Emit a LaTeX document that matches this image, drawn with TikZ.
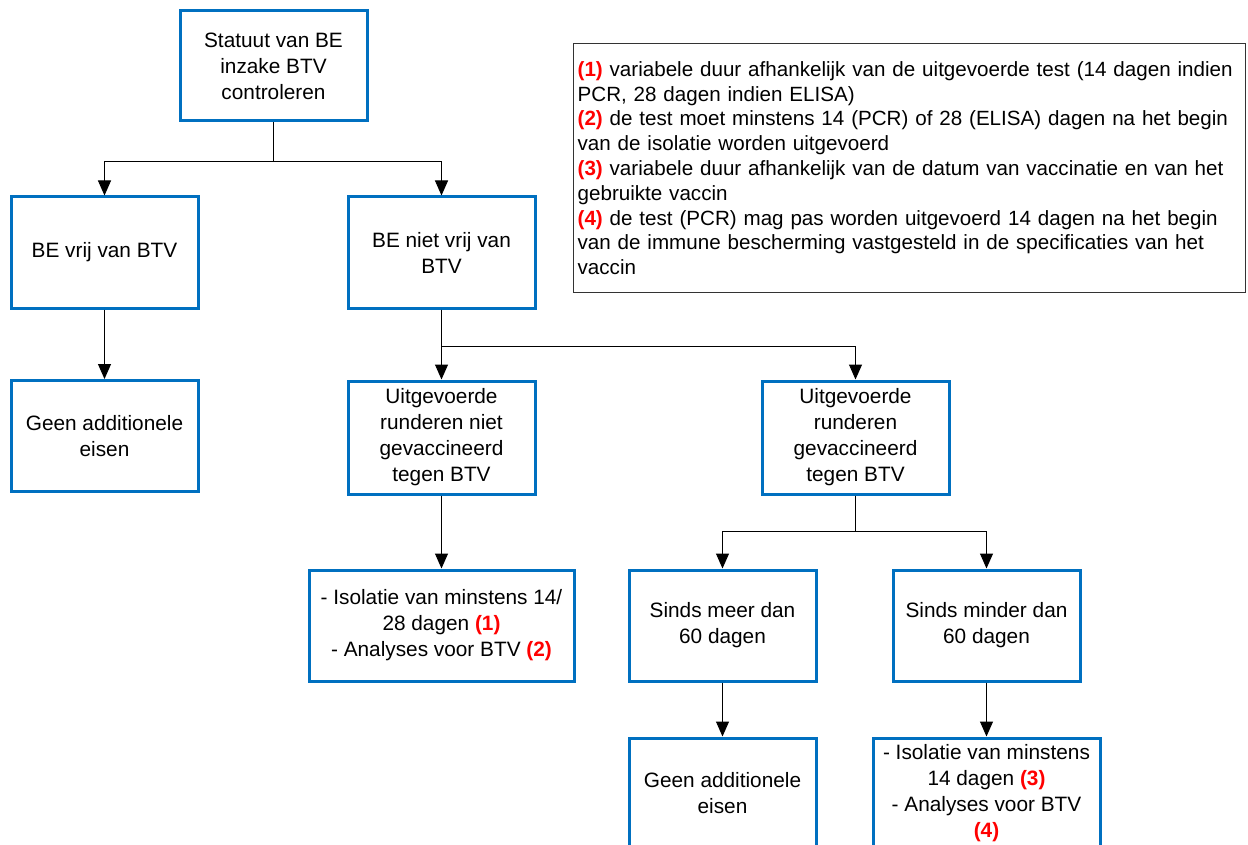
\documentclass[tikz,border=0pt]{standalone}
\usepackage{fontspec}
\setmainfont{Liberation Sans}
\usetikzlibrary{arrows.meta}
\definecolor{boxblue}{RGB}{0,112,192}
\newcommand{\nr}[1]{\textcolor{red}{\textbf{#1}}}

\begin{document}
\begin{tikzpicture}[x=1pt, y=-1pt,
    box/.style={draw=boxblue, line width=3pt, minimum width=187pt, minimum height=111pt,
      align=center, inner sep=2pt, font=\fontsize{20.8}{26}\selectfont},
    arr/.style={-{Triangle[width=13pt,length=15pt]}, line width=1pt}]
  \clip (0,0) rectangle (1248,845);
  % tree
  \node[box, minimum height=110pt] at (273.5,66) (status) {Statuut van BE\\inzake BTV\\controleren};
  \node[box] at (104.5,252.5) (free) {BE vrij van BTV};
  \node[box] at (441.5,252.5) (notfree) {BE niet vrij van\\BTV};
  \node[box] at (104.5,436) (none1) {Geen additionele\\eisen};
  \node[box, minimum height=113pt] at (441.5,437.5) (unvacc) {Uitgevoerde\\runderen niet\\gevaccineerd\\tegen BTV};
  \node[box, minimum height=113pt] at (855.5,437.5) (vacc) {Uitgevoerde\\runderen\\gevaccineerd\\tegen BTV};
  \node[box, minimum width=265pt] at (441.5,625.5) (iso1) {- Isolatie van minstens 14/\\28 dagen \nr{(1)}\\- Analyses voor BTV \nr{(2)}};
  \node[box] at (722.5,625.5) (more60) {Sinds meer dan\\60 dagen};
  \node[box] at (986.5,625.5) (less60) {Sinds minder dan\\60 dagen};
  \node[box] at (722.5,793.5) (none2) {Geen additionele\\eisen};
  \node[box, minimum width=227pt] at (986.5,793.5) (iso2) {- Isolatie van minstens\\14 dagen \nr{(3)}\\- Analyses voor BTV\\\nr{(4)}};
  % connectors
  \draw[arr] (status.south) -- ++(0,39) -| (free.north);
  \draw[arr] (status.south) -- ++(0,39) -| (notfree.north);
  \draw[arr] (free) -- (none1);
  \draw[arr] (notfree.south) -- ++(0,37) -| (unvacc.north);
  \draw[arr] (notfree.south) -- ++(0,37) -| (vacc.north);
  \draw[arr] (unvacc) -- (iso1);
  \draw[arr] (vacc.south) -- ++(0,36) -| (more60.north);
  \draw[arr] (vacc.south) -- ++(0,36) -| (less60.north);
  \draw[arr] (more60) -- (none2);
  \draw[arr] (less60) -- (iso2);
  % legend
  \node[draw=black!80, line width=1.3pt, anchor=north west, minimum height=249pt,
    text width=664pt, inner xsep=4pt, align=left, font=\fontsize{20.6}{24.8}\selectfont]
    at (573,43) (legend) {\nr{(1)} variabele duur afhankelijk van de uitgevoerde test (14 dagen indien\\
    PCR, 28 dagen indien ELISA)\\
    \nr{(2)} de test moet minstens 14 (PCR) of 28 (ELISA) dagen na het begin\\
    van de isolatie worden uitgevoerd\\
    \nr{(3)} variabele duur afhankelijk van de datum van vaccinatie en van het\\
    gebruikte vaccin\\
    \nr{(4)} de test (PCR) mag pas worden uitgevoerd 14 dagen na het begin\\
    van de immune bescherming vastgesteld in de specificaties van het\\
    vaccin};
\end{tikzpicture}
\end{document}
